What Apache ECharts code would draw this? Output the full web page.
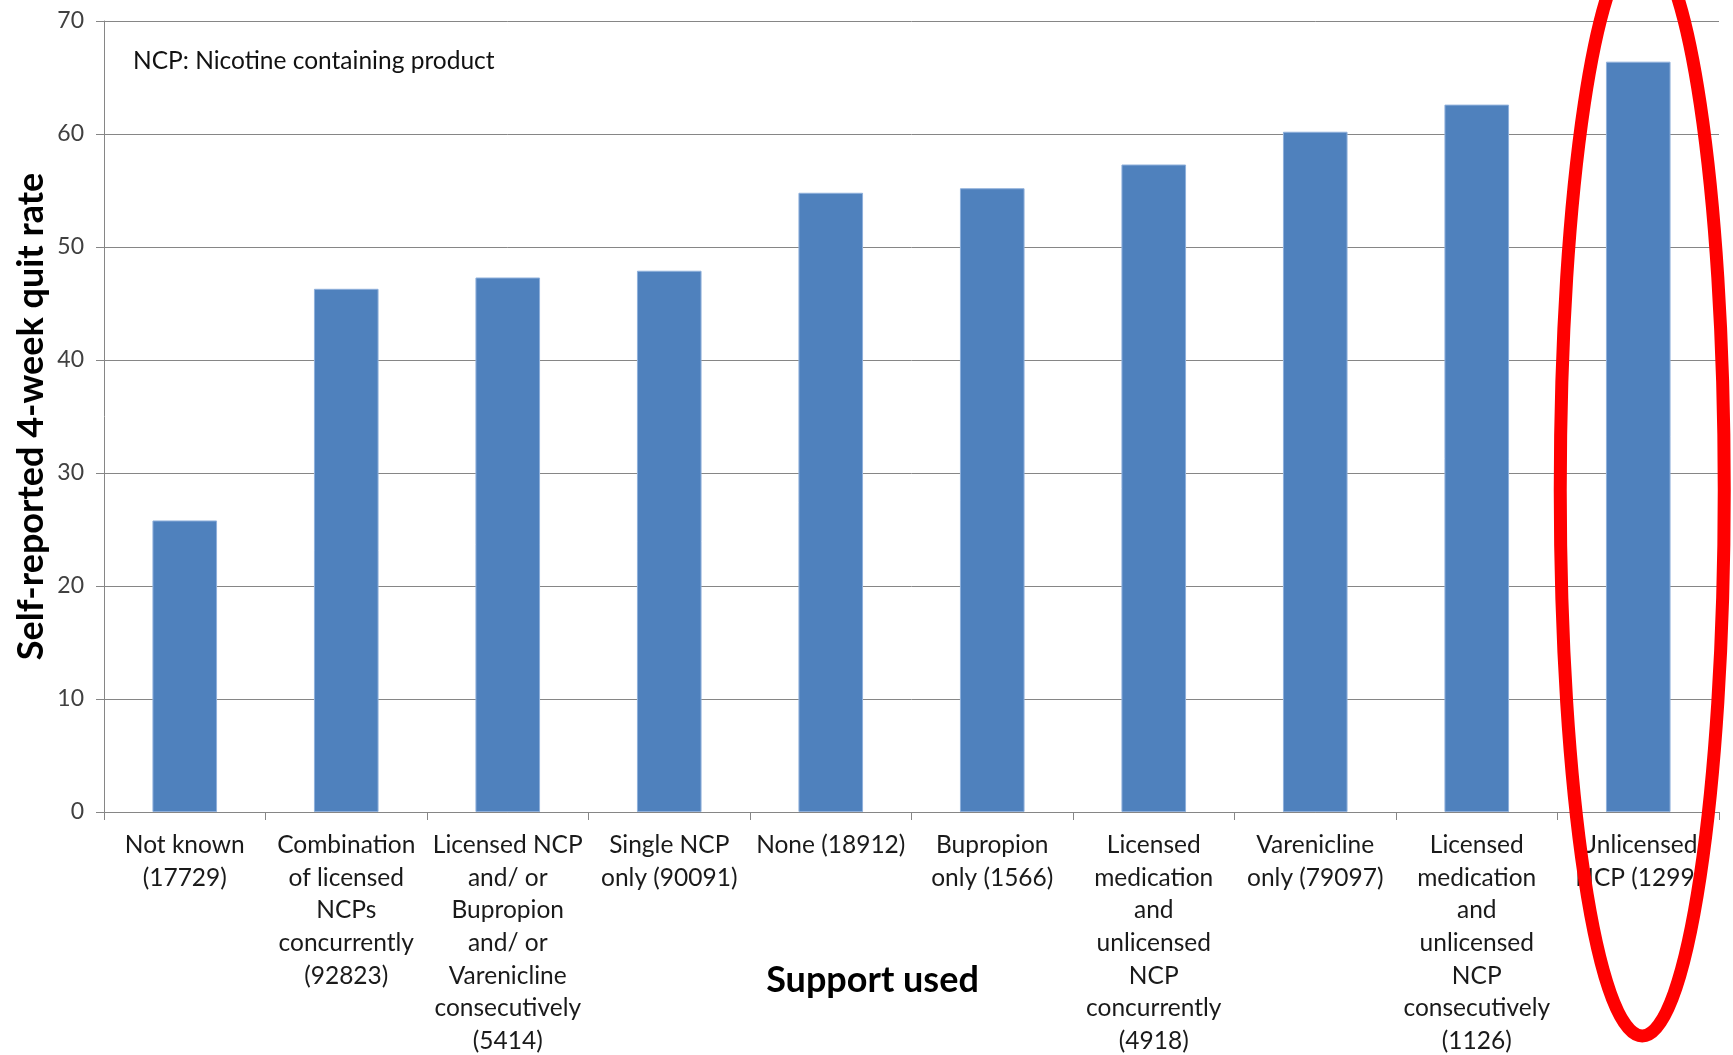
<!DOCTYPE html>
<html>
<head>
<meta charset="utf-8">
<title>Self-reported 4-week quit rate by support used</title>
<script src="https://cdn.jsdelivr.net/npm/echarts@6/dist/echarts.min.js"></script>
<style>
  html, body { margin: 0; padding: 0; background: #ffffff; overflow: hidden; }
  #chart { width: 1733px; height: 1055px; }
</style>
</head>
<body>
<div id="chart"></div>
<script>
// Support category labels (line breaks as printed under each bar)
const categories = [
  'Not known\n(17729)',
  'Combination\nof licensed\nNCPs\nconcurrently\n(92823)',
  'Licensed NCP\nand/ or\nBupropion\nand/ or\nVarenicline\nconsecutively\n(5414)',
  'Single NCP\nonly (90091)',
  'None (18912)',
  'Bupropion\nonly (1566)',
  'Licensed\nmedication\nand\nunlicensed\nNCP\nconcurrently\n(4918)',
  'Varenicline\nonly (79097)',
  'Licensed\nmedication\nand\nunlicensed\nNCP\nconsecutively\n(1126)',
  'Unlicensed\nNCP (1299)'
];

// Self-reported 4-week quit rate (%)
const quitRates = [25.8, 46.3, 47.3, 47.9, 54.8, 55.2, 57.3, 60.2, 62.6, 66.4];

// Value axis range
const yMin = 0;
const yMax = 70;
const yStep = 10;

const highlightCategory = categories[categories.length - 1];
const noteText = 'NCP: Nicotine containing product';

const FONT = 'Lato, "Open Sans", "Liberation Sans", sans-serif';
const AXIS_GREY = '#868686';

const chart = echarts.init(document.getElementById('chart'), null, { renderer: 'canvas' });

const noteGraphic = {
  type: 'text',
  left: 133, top: 49,
  style: { text: noteText, fontFamily: FONT, fontSize: 24.5, fill: '#111111' }
};

chart.setOption({
  animation: false,
  backgroundColor: '#ffffff',
  grid: {
    left: 104, right: 14, top: 21, bottom: 243,
    containLabel: false,
    outerBoundsMode: 'none'
  },
  xAxis: {
    type: 'category',
    data: categories,
    name: 'Support used',
    nameLocation: 'middle',
    nameGap: 150,
    nameMoveOverlap: false,
    nameTextStyle: {
      fontFamily: FONT, fontSize: 36, fontWeight: 'bold', color: '#000000',
      padding: [0, 78, 0, 0]
    },
    axisLine: { show: true, lineStyle: { color: AXIS_GREY, width: 1 } },
    axisTick: { show: true, length: 8, lineStyle: { color: AXIS_GREY } },
    axisLabel: {
      interval: 0, margin: 17, hideOverlap: false,
      fontFamily: FONT, fontSize: 24.5, lineHeight: 32.6, color: '#1a1a1a',
      align: 'center', verticalAlign: 'top'
    },
    splitLine: { show: false }
  },
  yAxis: {
    type: 'value',
    min: yMin, max: yMax, interval: yStep,
    name: 'Self-reported 4-week quit rate',
    nameLocation: 'middle',
    nameGap: 55,
    nameMoveOverlap: false,
    nameTextStyle: { fontFamily: FONT, fontSize: 36, fontWeight: 'bold', color: '#000000' },
    axisLine: { show: true, lineStyle: { color: AXIS_GREY, width: 1 } },
    axisTick: { show: true, length: 8, lineStyle: { color: AXIS_GREY } },
    axisLabel: { margin: 20, fontFamily: FONT, fontSize: 23, color: '#404040' },
    splitLine: { show: true, lineStyle: { color: AXIS_GREY, width: 1 } }
  },
  series: [{
    type: 'bar',
    data: quitRates,
    barWidth: '40%',
    itemStyle: { color: '#4F81BD', borderColor: '#8fb0db', borderWidth: 1 }
  }],
  graphic: [noteGraphic]
});

// Red ring drawn around the highlighted category
const cx = chart.convertToPixel({ xAxisIndex: 0 }, highlightCategory) + 4;
chart.setOption({
  graphic: [noteGraphic, {
    type: 'ellipse',
    z: 100,
    silent: true,
    shape: { cx: cx, cy: 490, rx: 82, ry: 546 },
    style: { fill: 'none', stroke: '#FF0000', lineWidth: 13 }
  }]
}, { replaceMerge: ['graphic'] });
</script>
</body>
</html>
